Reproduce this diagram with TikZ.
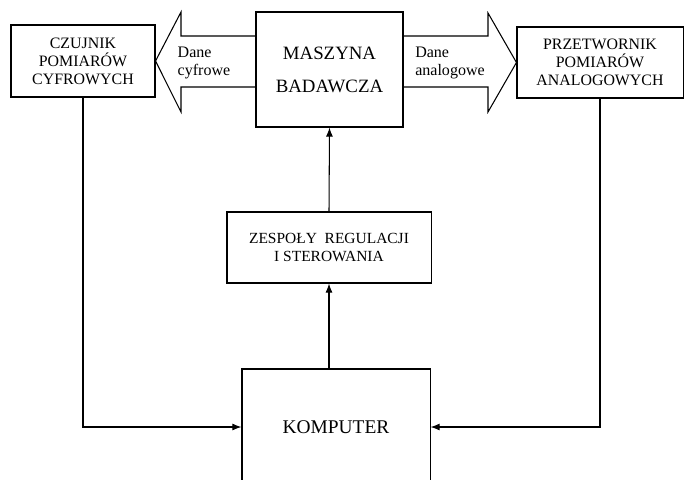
\documentclass[tikz,border=0pt]{standalone}
\usepackage{fontspec}
\setmainfont{Liberation Serif}
\usetikzlibrary{arrows.meta,positioning,calc}

\begin{document}
\begin{tikzpicture}[x=0.025cm,y=-0.025cm,
  box/.style={draw,line width=0.75pt,align=center,inner sep=0pt,
              font=\fontsize{11.3}{12.8}\selectfont},
  bigarrow/.style={draw,line width=0.75pt},
  flow/.style={-{Latex[length=6.5pt,width=5pt]},line width=0.75pt},
  lbl/.style={align=left,font=\fontsize{11.4}{12.3}\selectfont}]
  \useasboundingbox (0,0) rectangle (684,480);
  \node[box,minimum width=3.6cm,minimum height=1.8cm](czuj) at (83,61)
       {CZUJNIK\\POMIARÓW\\CYFROWYCH};
  \node[box,minimum width=3.675cm,minimum height=2.875cm,
        font=\fontsize{13.4}{23.5}\selectfont](masz) at (329.5,69.5)
       {MASZYNA\\BADAWCZA};
  \node[box,minimum width=4.15cm,minimum height=1.775cm](prze) at (600,62.5)
       {PRZETWORNIK\\POMIARÓW\\ANALOGOWYCH};
  \node[box,minimum width=5.1cm,minimum height=1.775cm,
        font=\fontsize{11}{12.3}\selectfont](zesp) at (329,247.5)
       {ZESPOŁY\ \ REGULACJI\\I STEROWANIA};
  \node[box,minimum width=4.7cm,minimum height=2.9cm,
        font=\fontsize{13.8}{16}\selectfont](komp) at (336,427){KOMPUTER};
  % szerokie strzalki danych
  \draw[bigarrow](masz.west |- 0,36)--(181,36)--(181,12)--(czuj.east)
       --(181,112)--(181,87)--(masz.west |- 0,87);
  \draw[bigarrow](masz.east |- 0,36)--(488,36)--(488,13)--(prze.west)
       --(488,112)--(488,87)--(masz.east |- 0,87);
  \node[lbl](dcyf) at (204,63){Dane\\cyfrowe};
  \node[lbl](dana) at (450,63){Dane\\analogowe};
  % polaczenia
  \draw[flow](czuj.south)|-(komp.west);
  \draw[flow](prze.south)|-(komp.east);
  \draw[flow](komp.north -| zesp.south)--(zesp.south);
  \draw[flow](zesp.north)--(masz.south);
\end{tikzpicture}
\end{document}
